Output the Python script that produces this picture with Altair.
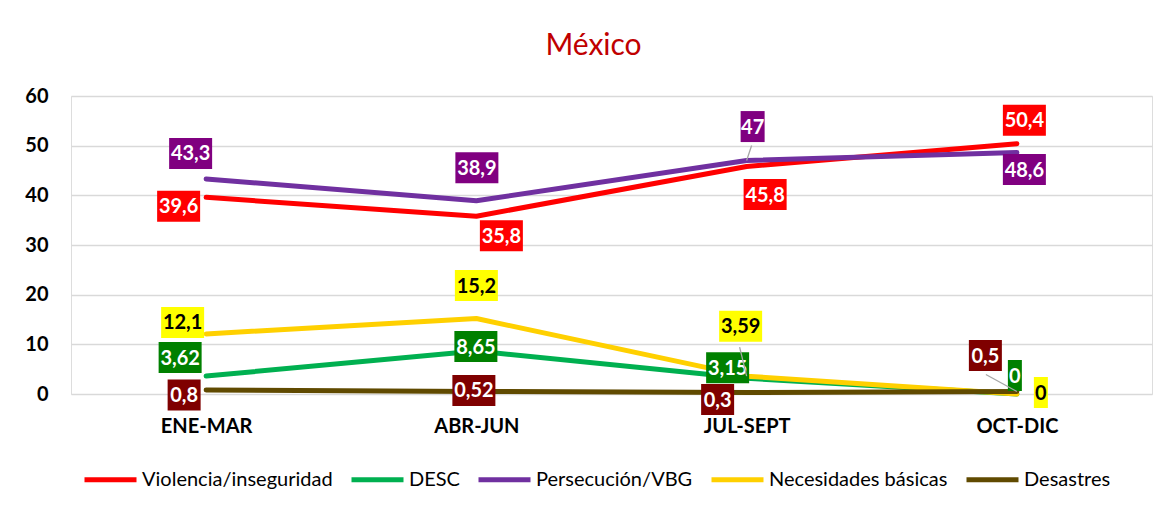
import altair as alt
import pandas as pd

periods = ["ENE-MAR", "ABR-JUN", "JUL-SEPT", "OCT-DIC"]
series = ["Violencia/inseguridad", "DESC", "Persecución/VBG", "Necesidades básicas", "Desastres"]

violencia = [39.6, 35.8, 45.8, 50.4]
desc = [3.62, 8.65, 3.15, 0]
persecucion = [43.3, 38.9, 47, 48.6]
necesidades = [12.1, 15.2, 3.59, 0]
desastres = [0.8, 0.52, 0.3, 0.5]
values = [violencia, desc, persecucion, necesidades, desastres]

# styles
line_colors = ["#FF0000", "#00B050", "#7030A0", "#FFD000", "#604A00"]
box_colors = ["#FF0000", "#008000", "#800080", "#FFFF00", "#7F0000"]
text_colors = ["#FFFFFF", "#FFFFFF", "#FFFFFF", "#000000", "#FFFFFF"]

# label placement (pixel offsets of the label box centre from its point)
label_offsets = [
    [(-27.5, 9), (25, 19.5), (18.5, 28), (7.5, -23.5)],
    [(-26, -18.5), (-0.5, -4.5), (-19, -10.5), (-2, -18.5)],
    [(-15.5, -25.5), (0.5, -33), (6, -34), (7.5, 17)],
    [(-23.5, -11.5), (0, -33), (-6, -50), (24, -1.5)],
    [(-22, 5), (-2.5, -1), (-29, 7), (-31.5, -36)],
]
# leader lines: (series index, period index) -> start offset
leader_lines = {(2, 2): (5, -15), (3, 2): (-7, -29), (4, 3): (-31, -17)}

PLOT_W, PLOT_H = 1081, 298
Y_MAX = 60
BOX_H = 31


def fmt(v):
    return f"{v:g}".replace(".", ",")


line_rows, label_rows, leader_rows = [], [], []
for si, name in enumerate(series):
    for pi, per in enumerate(periods):
        v = values[si][pi]
        line_rows.append({"period": per, "series": name, "value": v, "idx": pi})
        txt = fmt(v)
        nd = sum(ch.isdigit() for ch in txt)
        nc = txt.count(",")
        w = 10 * nd + 9 * nc + 4
        dx, dy = label_offsets[si][pi]
        box = (f"M{dx - w / 2},{dy - BOX_H / 2}H{dx + w / 2}"
               f"V{dy + BOX_H / 2}H{dx - w / 2}Z")
        label_rows.append({"period": per, "series": name, "value": v, "text": txt,
                           "dx": dx, "dy": dy, "box": box,
                           "boxcolor": box_colors[si], "textcolor": text_colors[si]})
        if (si, pi) in leader_lines:
            lx, ly = leader_lines[(si, pi)]
            leader_rows.append({"period": per, "value": v,
                                "lpath": f"M{lx},{ly}L0,0"})

lines_df = pd.DataFrame(line_rows)
labels_df = pd.DataFrame(label_rows)
leaders_df = pd.DataFrame(leader_rows)

x_scale = alt.Scale(type="point", padding=0.5, domain=periods)
y_scale = alt.Scale(domain=[0, Y_MAX])

x_enc = alt.X("period:N", scale=x_scale, sort=periods,
              axis=alt.Axis(title=None, labelFont="Lato", labelFontSize=20,
                            labelFontWeight="bold", labelColor="#000000",
                            labelPadding=22, labelAngle=0, domain=False,
                            ticks=False, grid=False))
y_enc = alt.Y("value:Q", scale=y_scale,
              axis=alt.Axis(title=None, values=[0, 10, 20, 30, 40, 50, 60],
                            labelFont="Lato", labelFontSize=20,
                            labelFontWeight="bold", labelColor="#000000",
                            labelPadding=23, domain=False, ticks=False,
                            grid=True, gridColor="#D9D9D9", gridWidth=1.5))

lines = alt.Chart(lines_df).mark_line(strokeWidth=5, strokeCap="round",
                                      strokeJoin="round").encode(
    x=x_enc,
    y=y_enc,
    color=alt.Color("series:N", sort=series,
                    scale=alt.Scale(domain=series, range=line_colors),
                    legend=alt.Legend(title=None, orient="none",
                                      direction="horizontal",
                                      legendX=11, legendY=355,
                                      symbolType="stroke", symbolSize=2704,
                                      symbolStrokeWidth=5,
                                      labelFont="Lato", labelFontSize=20,
                                      labelColor="#000000", labelOffset=3,
                                      columnPadding=8, labelLimit=400)),
    order=alt.Order("idx:Q"),
)

boxes = alt.Chart(labels_df).mark_point(filled=True, opacity=1, size=4,
                                        strokeWidth=0).encode(
    x=alt.X("period:N", scale=x_scale, sort=periods),
    y=alt.Y("value:Q", scale=y_scale),
    shape=alt.Shape("box:N", scale=None),
    fill=alt.Fill("boxcolor:N", scale=None),
)

texts = alt.Chart(labels_df).transform_calculate(
    ylab=f"datum.value - datum.dy * {Y_MAX} / {PLOT_H}"
).mark_text(font="Lato", fontSize=20, fontWeight="bold", align="center",
            baseline="middle", dy=1).encode(
    x=alt.X("period:N", scale=x_scale, sort=periods),
    y=alt.Y("ylab:Q", scale=y_scale),
    xOffset=alt.XOffset("dx:Q", scale=None),
    text="text:N",
    color=alt.Color("textcolor:N", scale=None),
)

leaders = alt.Chart(leaders_df).mark_point(filled=False, opacity=1, size=4,
                                           stroke="#A6A6A6",
                                           strokeWidth=1.3).encode(
    x=alt.X("period:N", scale=x_scale, sort=periods),
    y=alt.Y("value:Q", scale=y_scale),
    shape=alt.Shape("lpath:N", scale=None),
)

chart = alt.layer(lines, boxes, texts, leaders).properties(
    width=PLOT_W,
    height=PLOT_H,
    autosize=alt.AutoSizeParams(type="none"),
    padding={"left": 63, "top": 88, "right": 12, "bottom": 110},
    title=alt.TitleParams("México", font="Lato", fontSize=30,
                          fontWeight="normal", color="#C00000",
                          anchor="middle", dx=-18, offset=25),
).configure_view(stroke=None).configure(background="#FFFFFF")

chart.save("out.html", embed_options={"renderer": "svg", "actions": False})
